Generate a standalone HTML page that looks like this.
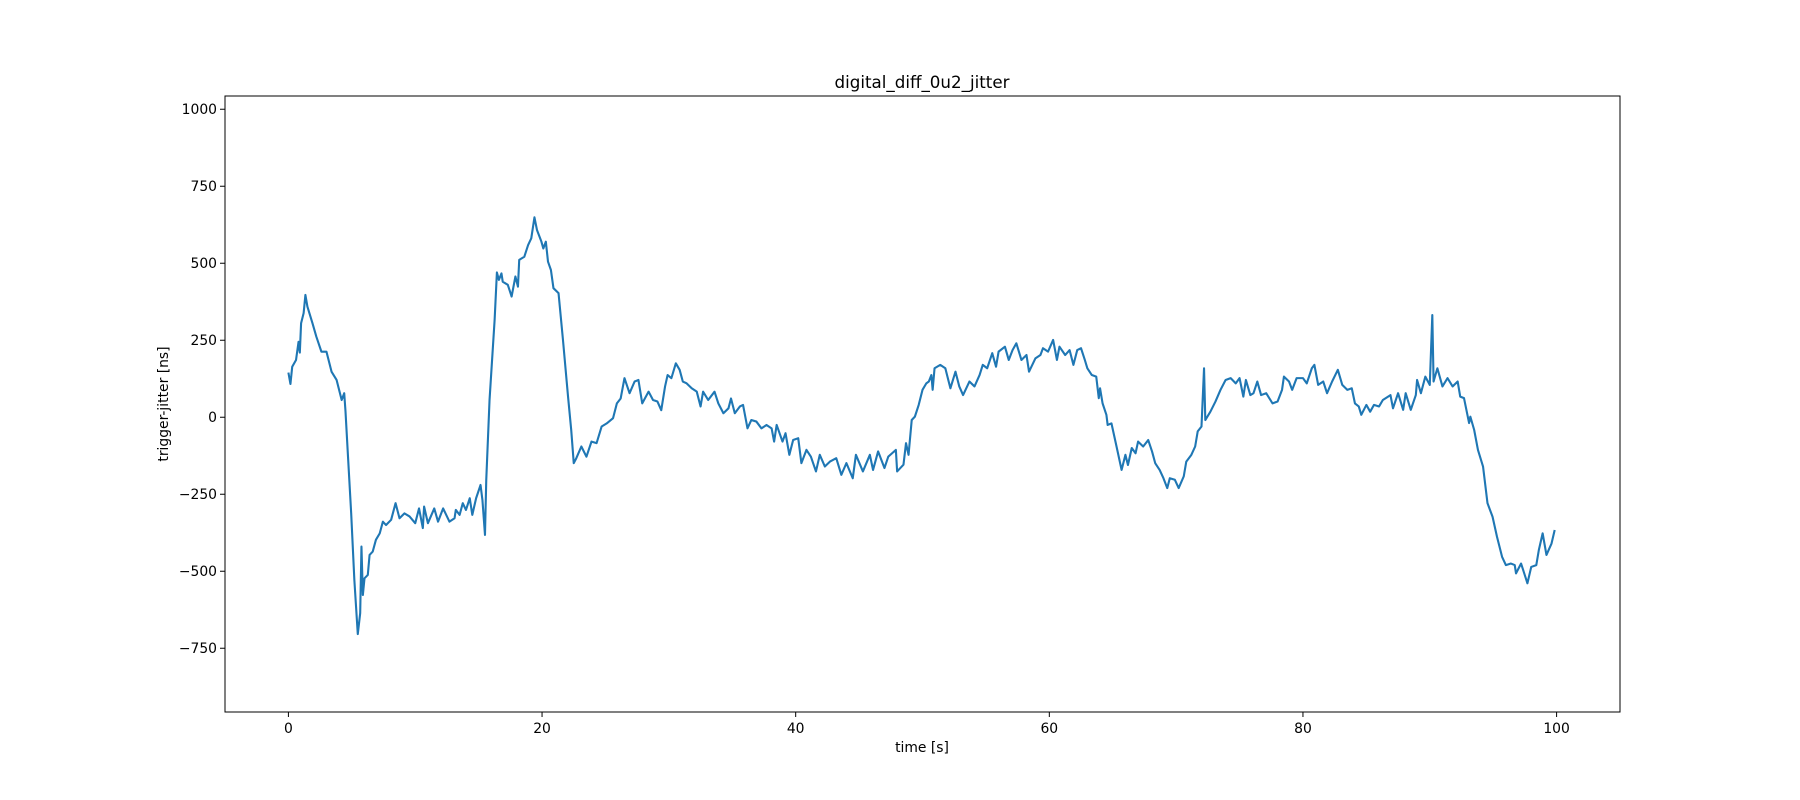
<!DOCTYPE html>
<html>
<head>
<meta charset="utf-8">
<style>
html,body{margin:0;padding:0;background:#fff;}
svg{display:block;font-family:"DejaVu Sans","Liberation Sans",sans-serif;}
</style>
</head>
<body>
<svg id="chart" width="1800" height="800" viewBox="0 0 1800 800" xmlns="http://www.w3.org/2000/svg">
  <rect x="0" y="0" width="1800" height="800" fill="#fff"/>
  <text x="922" y="88" font-size="16.7" text-anchor="middle" fill="#000">digital_diff_0u2_jitter</text>
  <g id="ticks"></g>
  <g id="series"></g>
  <rect x="225" y="96" width="1395" height="616" fill="none" stroke="#000" stroke-width="1"/>
  <text x="922" y="752" font-size="13.9" text-anchor="middle" fill="#000">time [s]</text>
  <text x="168" y="404" font-size="13.9" text-anchor="middle" fill="#000" transform="rotate(-90 168 404)">trigger-jitter [ns]</text>
</svg>
<script>
const xTicks = [0, 20, 40, 60, 80, 100];
const yTicks = [-750, -500, -250, 0, 250, 500, 750, 1000];
const yTickLabels = ["\u2212750", "\u2212500", "\u2212250", "0", "250", "500", "750", "1000"];
const times = [0,.16,.3,.6,.8,.9,1.0,1.2,1.34,1.5,1.9,2.2,2.6,3.0,3.4,3.8,4.2,4.4,4.5,4.7,4.95,5.2,5.47,5.66,5.76,5.87,6.0,6.26,6.4,6.65,6.9,7.2,7.45,7.7,8.1,8.45,8.76,9.15,9.55,10.0,10.3,10.6,10.7,11.0,11.5,11.8,12.2,12.7,13.1,13.2,13.5,13.75,14.0,14.3,14.5,14.8,15.15,15.3,15.5,15.6,15.86,16.26,16.44,16.6,16.8,16.9,17.3,17.6,17.9,18.1,18.2,18.6,18.9,19.15,19.4,19.6,19.95,20.1,20.3,20.47,20.7,20.9,21.3,21.65,22.05,22.3,22.5,22.7,23.1,23.5,23.9,24.3,24.7,25.1,25.6,25.9,26.2,26.5,26.9,27.3,27.6,27.9,28.4,28.75,29.1,29.4,29.7,29.9,30.2,30.55,30.85,31.1,31.4,31.8,32.2,32.5,32.7,33.1,33.6,33.9,34.3,34.7,34.9,35.2,35.6,35.85,36.2,36.5,36.9,37.3,37.7,38.1,38.3,38.5,38.96,39.2,39.5,39.8,40.2,40.45,40.85,41.2,41.6,41.9,42.3,42.7,43.2,43.6,44.0,44.5,44.75,45.3,45.85,46.1,46.5,47.0,47.3,47.9,48.0,48.5,48.7,48.9,49.15,49.4,49.7,50.0,50.3,50.5,50.7,50.8,50.95,51.4,51.8,52.2,52.6,52.9,53.2,53.7,54.1,54.5,54.75,55.1,55.5,55.8,56.0,56.5,56.8,57.1,57.4,57.8,58.2,58.4,58.9,59.3,59.5,59.9,60.3,60.6,60.8,61.25,61.6,61.9,62.2,62.5,62.8,63.0,63.35,63.7,63.9,64.0,64.2,64.5,64.6,64.9,65.3,65.7,66.0,66.2,66.5,66.8,67.0,67.4,67.8,68.1,68.35,68.7,69.0,69.3,69.5,69.9,70.2,70.6,70.8,71.2,71.5,71.7,72.0,72.2,72.3,72.7,73.1,73.5,73.9,74.3,74.7,75.0,75.3,75.5,75.85,76.1,76.4,76.7,77.1,77.6,78.0,78.35,78.5,78.9,79.15,79.5,80.0,80.3,80.7,80.9,81.2,81.6,81.9,82.3,82.75,83.1,83.5,83.85,84.1,84.4,84.6,85.0,85.3,85.6,86.0,86.3,86.9,87.1,87.5,87.9,88.1,88.5,88.9,89.0,89.3,89.65,90.0,90.2,90.3,90.6,91.0,91.4,91.8,92.2,92.4,92.7,93.1,93.2,93.5,93.8,94.2,94.55,94.95,95.3,95.7,96.0,96.4,96.7,96.8,97.2,97.7,98.0,98.4,98.6,98.9,99.2,99.6,99.85];
const jitter = [145,108,164,186,245,210,305,338,397,359,305,262,213,213,148,121,56,78,20,-128,-312,-528,-704,-636,-420,-577,-523,-512,-447,-436,-398,-377,-339,-350,-333,-279,-328,-312,-322,-344,-296,-360,-290,-344,-296,-339,-296,-339,-328,-301,-317,-279,-301,-263,-317,-263,-220,-269,-382,-204,56,316,470,446,467,440,430,392,457,424,511,521,559,581,649,608,570,548,570,505,478,419,403,251,67,-41,-149,-133,-95,-128,-79,-84,-30,-20,-3,45,61,127,78,116,121,45,83,56,51,23,100,137,127,175,154,116,110,94,83,35,83,56,83,45,13,29,61,13,35,40,-36,-9,-14,-36,-25,-36,-79,-25,-79,-52,-122,-74,-68,-149,-106,-128,-176,-122,-160,-144,-133,-187,-149,-198,-122,-176,-122,-171,-111,-165,-128,-106,-176,-154,-84,-122,-9,2,40,89,110,116,137,89,159,170,159,94,148,100,72,116,100,137,170,159,208,164,213,229,186,218,240,186,202,148,191,202,224,213,251,186,229,202,218,170,218,224,186,159,137,132,62,94,45,8,-25,-20,-95,-171,-122,-155,-100,-117,-79,-95,-74,-111,-149,-171,-198,-230,-198,-203,-230,-192,-144,-122,-95,-46,-30,159,-9,18,51,89,121,127,110,127,67,121,72,78,116,72,78,45,51,89,132,116,89,127,127,110,159,170,105,116,78,116,154,105,89,94,45,35,8,40,18,40,35,56,72,29,78,24,78,24,72,121,78,132,105,332,116,159,100,127,100,116,67,62,-19,2,-41,-106,-160,-279,-323,-388,-453,-480,-475,-480,-507,-475,-539,-486,-480,-431,-377,-447,-410,-366];

const X0 = 225, X1 = 1620, Y0 = 712, Y1 = 96;
const xMin = -5, xMax = 105, yMin = -957, yMax = 1043;
function xScale(t){ return X0 + (t - xMin) / (xMax - xMin) * (X1 - X0); }
function yScale(v){ return Y0 - (v - yMin) / (yMax - yMin) * (Y0 - Y1); }

const NS = "http://www.w3.org/2000/svg";
const tg = document.getElementById("ticks");
xTicks.forEach(function(t){
  const x = xScale(t);
  const l = document.createElementNS(NS, "line");
  l.setAttribute("x1", x); l.setAttribute("x2", x);
  l.setAttribute("y1", Y0); l.setAttribute("y2", Y0 + 5);
  l.setAttribute("stroke", "#000");
  
  
  tg.appendChild(l);
  const tx = document.createElementNS(NS, "text");
  tx.setAttribute("x", x); tx.setAttribute("y", Y0 + 21);
  tx.setAttribute("font-size", "13.9");
  tx.setAttribute("text-anchor", "middle");
  tx.textContent = String(t);
  
  
  tg.appendChild(tx);
});
yTicks.forEach(function(v, i){
  const y = yScale(v);
  const l = document.createElementNS(NS, "line");
  l.setAttribute("x1", X0 - 5); l.setAttribute("x2", X0);
  l.setAttribute("y1", y); l.setAttribute("y2", y);
  l.setAttribute("stroke", "#000");
  
  
  tg.appendChild(l);
  const tx = document.createElementNS(NS, "text");
  tx.setAttribute("x", X0 - 8); tx.setAttribute("y", y + 5);
  tx.setAttribute("font-size", "13.9");
  tx.setAttribute("text-anchor", "end");
  tx.textContent = yTickLabels[i];
  
  
  tg.appendChild(tx);
});
const sg = document.getElementById("series");
let d = "";
for (let i = 0; i < times.length; i++) {
  d += (i ? "L" : "M") + xScale(times[i]).toFixed(2) + "," + yScale(jitter[i]).toFixed(2);
}
const p = document.createElementNS(NS, "path");
p.setAttribute("d", d);
p.setAttribute("fill", "none");
p.setAttribute("stroke", "#1f77b4");
p.setAttribute("stroke-width", "2.1");
p.setAttribute("stroke-linejoin", "round");


sg.appendChild(p);
</script>
</body>
</html>
